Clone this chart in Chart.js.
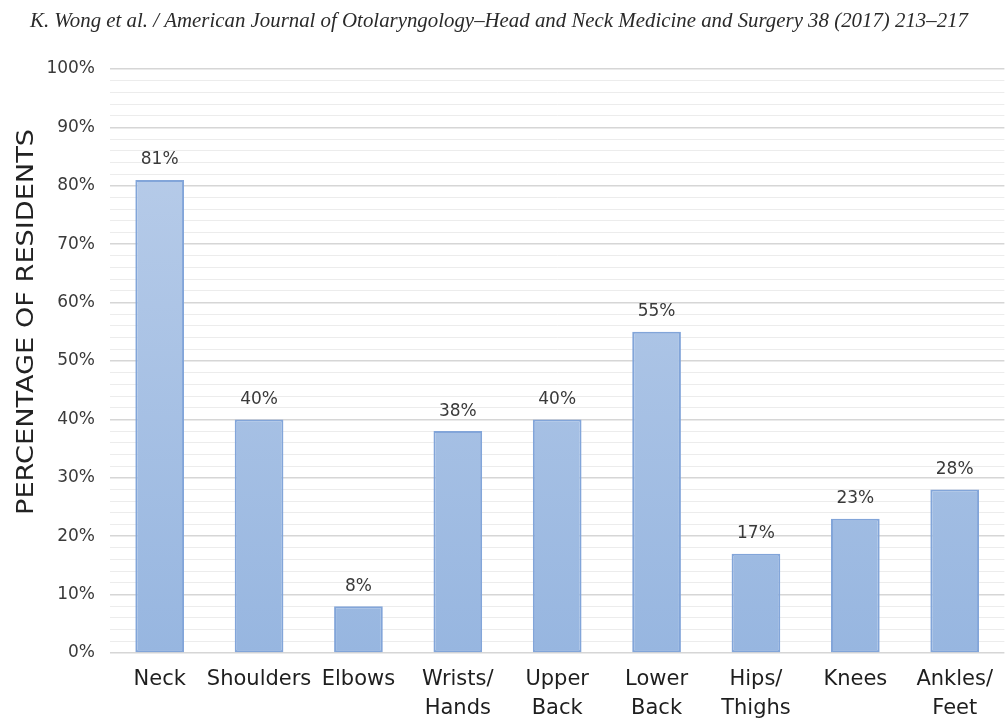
<!DOCTYPE html>
<html>
<head>
<meta charset="utf-8">
<script src="https://cdn.jsdelivr.net/npm/chart.js@4.4.0/dist/chart.umd.min.js"></script>
<style>
  html, body { margin: 0; padding: 0; background: #fff; overflow: hidden; }
  #wrap { width: 1005px; height: 718px; position: relative; }
</style>
</head>
<body>
<div id="wrap"><canvas id="c" width="1005" height="718"></canvas></div>
<script>
// Body regions reporting musculoskeletal symptoms
const categories = [
  ['Neck'], ['Shoulders'], ['Elbows'], ['Wrists/', 'Hands'], ['Upper', 'Back'],
  ['Lower', 'Back'], ['Hips/', 'Thighs'], ['Knees'], ['Ankles/', 'Feet']
];
const percentResidents = [81, 40, 8, 38, 40, 55, 17, 23, 28];
const yTickValues = [0, 10, 20, 30, 40, 50, 60, 70, 80, 90, 100];

const headerText = 'K. Wong et al. / American Journal of Otolaryngology\u2013Head and Neck Medicine and Surgery 38 (2017) 213\u2013217';
const yTitleText = 'PERCENTAGE OF RESIDENTS';
const sansFamily = '"DejaVu Sans", "Liberation Sans", Arial, sans-serif';

// Draws a single line of text stretched to a given length
function drawFitted(ctx, text, font, length) {
  ctx.font = font;
  const w = ctx.measureText(text).width;
  ctx.scale(length / w, 1);
  ctx.fillText(text, 0, 0);
}

// Running header line and the rotated y-axis title
const textPlugin = {
  id: 'pageText',
  afterDraw(chart) {
    const ctx = chart.ctx;
    ctx.save();
    ctx.fillStyle = '#2a2a2a';
    ctx.textBaseline = 'alphabetic';
    ctx.translate(30, 27);
    drawFitted(ctx, headerText, 'italic 20px "Liberation Serif"', 938);
    ctx.restore();

    ctx.save();
    ctx.fillStyle = '#222';
    ctx.textAlign = 'center';
    ctx.textBaseline = 'middle';
    ctx.translate(27, 322);
    ctx.rotate(-Math.PI / 2);
    drawFitted(ctx, yTitleText, '23px ' + sansFamily, 386);
    ctx.restore();
  }
};

// Value labels above each bar
const valueLabelPlugin = {
  id: 'valueLabels',
  afterDatasetsDraw(chart) {
    const ctx = chart.ctx;
    const meta = chart.getDatasetMeta(0);
    ctx.save();
    ctx.font = '17px ' + sansFamily;
    ctx.fillStyle = '#3a3a3a';
    ctx.textAlign = 'center';
    ctx.textBaseline = 'middle';
    meta.data.forEach((bar, i) => {
      ctx.fillText(percentResidents[i] + '%', bar.x, bar.y - 20);
    });
    ctx.restore();
  }
};

function barGradient(context) {
  const area = context.chart.chartArea;
  if (!area) return '#a9c1e4';
  const g = context.chart.ctx.createLinearGradient(0, area.top, 0, area.bottom);
  g.addColorStop(0, '#bccfea');
  g.addColorStop(1, '#97b6e0');
  return g;
}

new Chart(document.getElementById('c'), {
  type: 'bar',
  data: {
    labels: categories,
    datasets: [{
      data: percentResidents,
      backgroundColor: barGradient,
      borderColor: '#82a5d9',
      borderWidth: 2,
      borderSkipped: false,
      barPercentage: 1,
      categoryPercentage: 0.49
    }]
  },
  options: {
    responsive: false,
    animation: false,
    events: [],
    layout: { padding: { top: 69, left: 0, right: 0, bottom: 0 } },
    plugins: { legend: { display: false }, tooltip: { enabled: false } },
    scales: {
      x: {
        afterFit: (scale) => { scale.height = 65; },
        grid: { display: false, drawTicks: false },
        border: { display: false },
        ticks: {
          color: '#1e1e1e',
          font: { family: sansFamily, size: 21, lineHeight: 1.38 },
          padding: 12,
          maxRotation: 0,
          autoSkip: false
        }
      },
      y: {
        min: 0,
        max: 100,
        afterFit: (scale) => { scale.width = 110; },
        border: { display: false },
        grid: {
          drawTicks: false,
          lineWidth: (c) => (c.tick && c.tick.value % 10 === 0) ? 1.6 : 1,
          color: (c) => (c.tick && c.tick.value % 10 === 0) ? '#d6d6d6' : '#ececec'
        },
        ticks: {
          stepSize: 2,
          autoSkip: false,
          padding: 15,
          color: '#3a3a3a',
          font: { family: sansFamily, size: 17 },
          callback: (v) => yTickValues.includes(v) ? v + '%' : ''
        }
      }
    }
  },
  plugins: [textPlugin, valueLabelPlugin]
});
</script>
</body>
</html>
